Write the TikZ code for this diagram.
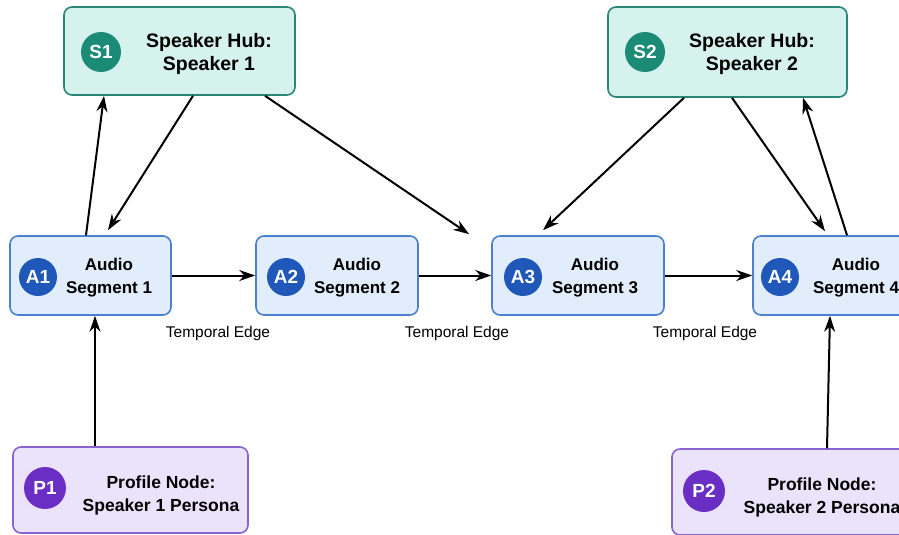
\documentclass[tikz,border=0pt]{standalone}
\usepackage{fontspec}
\setmainfont{Liberation Sans}
\usetikzlibrary{arrows.meta}
\definecolor{tealfill}{HTML}{D6F2EC}
\definecolor{tealline}{HTML}{2B8577}
\definecolor{tealdot}{HTML}{1B8A77}
\definecolor{bluefill}{HTML}{E2EDFB}
\definecolor{blueline}{HTML}{4A80CF}
\definecolor{bluedot}{HTML}{1F58B8}
\definecolor{purpfill}{HTML}{EBE3FB}
\definecolor{purpline}{HTML}{8A63D2}
\definecolor{purpdot}{HTML}{6A2EC4}
\tikzset{
  boxbase/.style={draw, rounded corners=8pt, line width=1.6pt, inner sep=0pt},
  hubbox/.style={boxbase, fill=tealfill, draw=tealline},
  segbox/.style={boxbase, fill=bluefill, draw=blueline, minimum height=79pt},
  profbox/.style={boxbase, fill=purpfill, draw=purpline},
  dotbase/.style={circle, inner sep=0pt, text=white, font=\bfseries\fontsize{19}{22}\selectfont},
  hubdot/.style={dotbase, fill=tealdot, minimum size=40pt},
  segdot/.style={dotbase, fill=bluedot, minimum size=38pt},
  profdot/.style={dotbase, fill=purpdot, minimum size=42pt},
  lbl/.style={align=center, font=\bfseries\fontsize{17.5}{23}\selectfont, inner sep=0pt},
  hublbl/.style={lbl, font=\bfseries\fontsize{19.5}{23}\selectfont},
  seglbl/.style={lbl, font=\bfseries\fontsize{17}{23}\selectfont},
  edgelbl/.style={font=\fontsize{15.5}{18}\selectfont, inner sep=0pt},
  arr/.style={-{Stealth[length=16pt,width=11pt]}, line width=2pt, black}
}
\begin{document}
\begin{tikzpicture}[x=1pt,y=-1pt]
\clip (0,0) rectangle (899,535);
\fill[white] (0,0) rectangle (899,535);

% hubs
\node[hubbox, minimum width=231pt, minimum height=88pt] (S1) at (179.5,51) {};
\node[hubdot] (S1d) at (101,52) {S1};
\node[hublbl] (S1t) at (209,54) {Speaker Hub:\\Speaker 1};

\node[hubbox, minimum width=239pt, minimum height=90pt] (S2) at (727.5,52) {};
\node[hubdot] (S2d) at (645,52) {S2};
\node[hublbl] (S2t) at (752,54) {Speaker Hub:\\Speaker 2};

% segments
\node[segbox, minimum width=161pt] (A1) at (90.5,275.5) {};
\node[segdot] (A1d) at (38,277) {A1};
\node[seglbl] (A1t) at (109,278) {Audio\\Segment 1};

\node[segbox, minimum width=162pt] (A2) at (337,275.5) {};
\node[segdot] (A2d) at (286,277) {A2};
\node[seglbl] (A2t) at (357,278) {Audio\\Segment 2};

\node[segbox, minimum width=172pt] (A3) at (578,275.5) {};
\node[segdot] (A3d) at (523,277) {A3};
\node[seglbl] (A3t) at (595,278) {Audio\\Segment 3};

\node[segbox, minimum width=165pt] (A4) at (835.5,275.5) {};
\node[segdot] (A4d) at (780,277) {A4};
\node[seglbl] (A4t) at (856,278) {Audio\\Segment 4};

% profiles
\node[profbox, minimum width=235pt, minimum height=86pt] (P1) at (130.5,490) {};
\node[profdot] (P1d) at (45,488) {P1};
\node[lbl] (P1t) at (161,495) {Profile Node:\\Speaker 1 Persona};

\node[profbox, minimum width=238pt, minimum height=86pt] (P2) at (791,492) {};
\node[profdot] (P2d) at (704,491) {P2};
\node[lbl] (P2t) at (822,497) {Profile Node:\\Speaker 2 Persona};

% temporal edges
\draw[arr] (A1.east) -- (A2.west);
\draw[arr] (A2.east) -- (A3.west);
\draw[arr] (A3.east) -- (A4.west);
\node[edgelbl] (T1) at (218,333) {Temporal Edge};
\node[edgelbl] (T2) at (457,333) {Temporal Edge};
\node[edgelbl] (T3) at (705,333) {Temporal Edge};

% hub links
\draw[arr] ([xshift=-4.5pt]A1.north) -- ([xshift=-75.5pt]S1.south);
\draw[arr] ([xshift=13.5pt]S1.south) -- ([xshift=17.5pt,yshift=5pt]A1.north);
\draw[arr] ([xshift=85.5pt]S1.south) -- ([xshift=-22pt,yshift=1pt]A3.north west);
\draw[arr] ([xshift=-43.5pt]S2.south) -- ([xshift=-35pt,yshift=5pt]A3.north);
\draw[arr] ([xshift=4.5pt]S2.south) -- ([xshift=-10.5pt,yshift=4pt]A4.north);
\draw[arr] ([xshift=11.5pt]A4.north) -- ([xshift=75.5pt]S2.south);

% profile links
\draw[arr] ([xshift=-35.5pt]P1.north) -- ([xshift=4.5pt]A1.south);
\draw[arr] ([xshift=36pt]P2.north) -- ([xshift=-5.5pt]A4.south);
\end{tikzpicture}
\end{document}
